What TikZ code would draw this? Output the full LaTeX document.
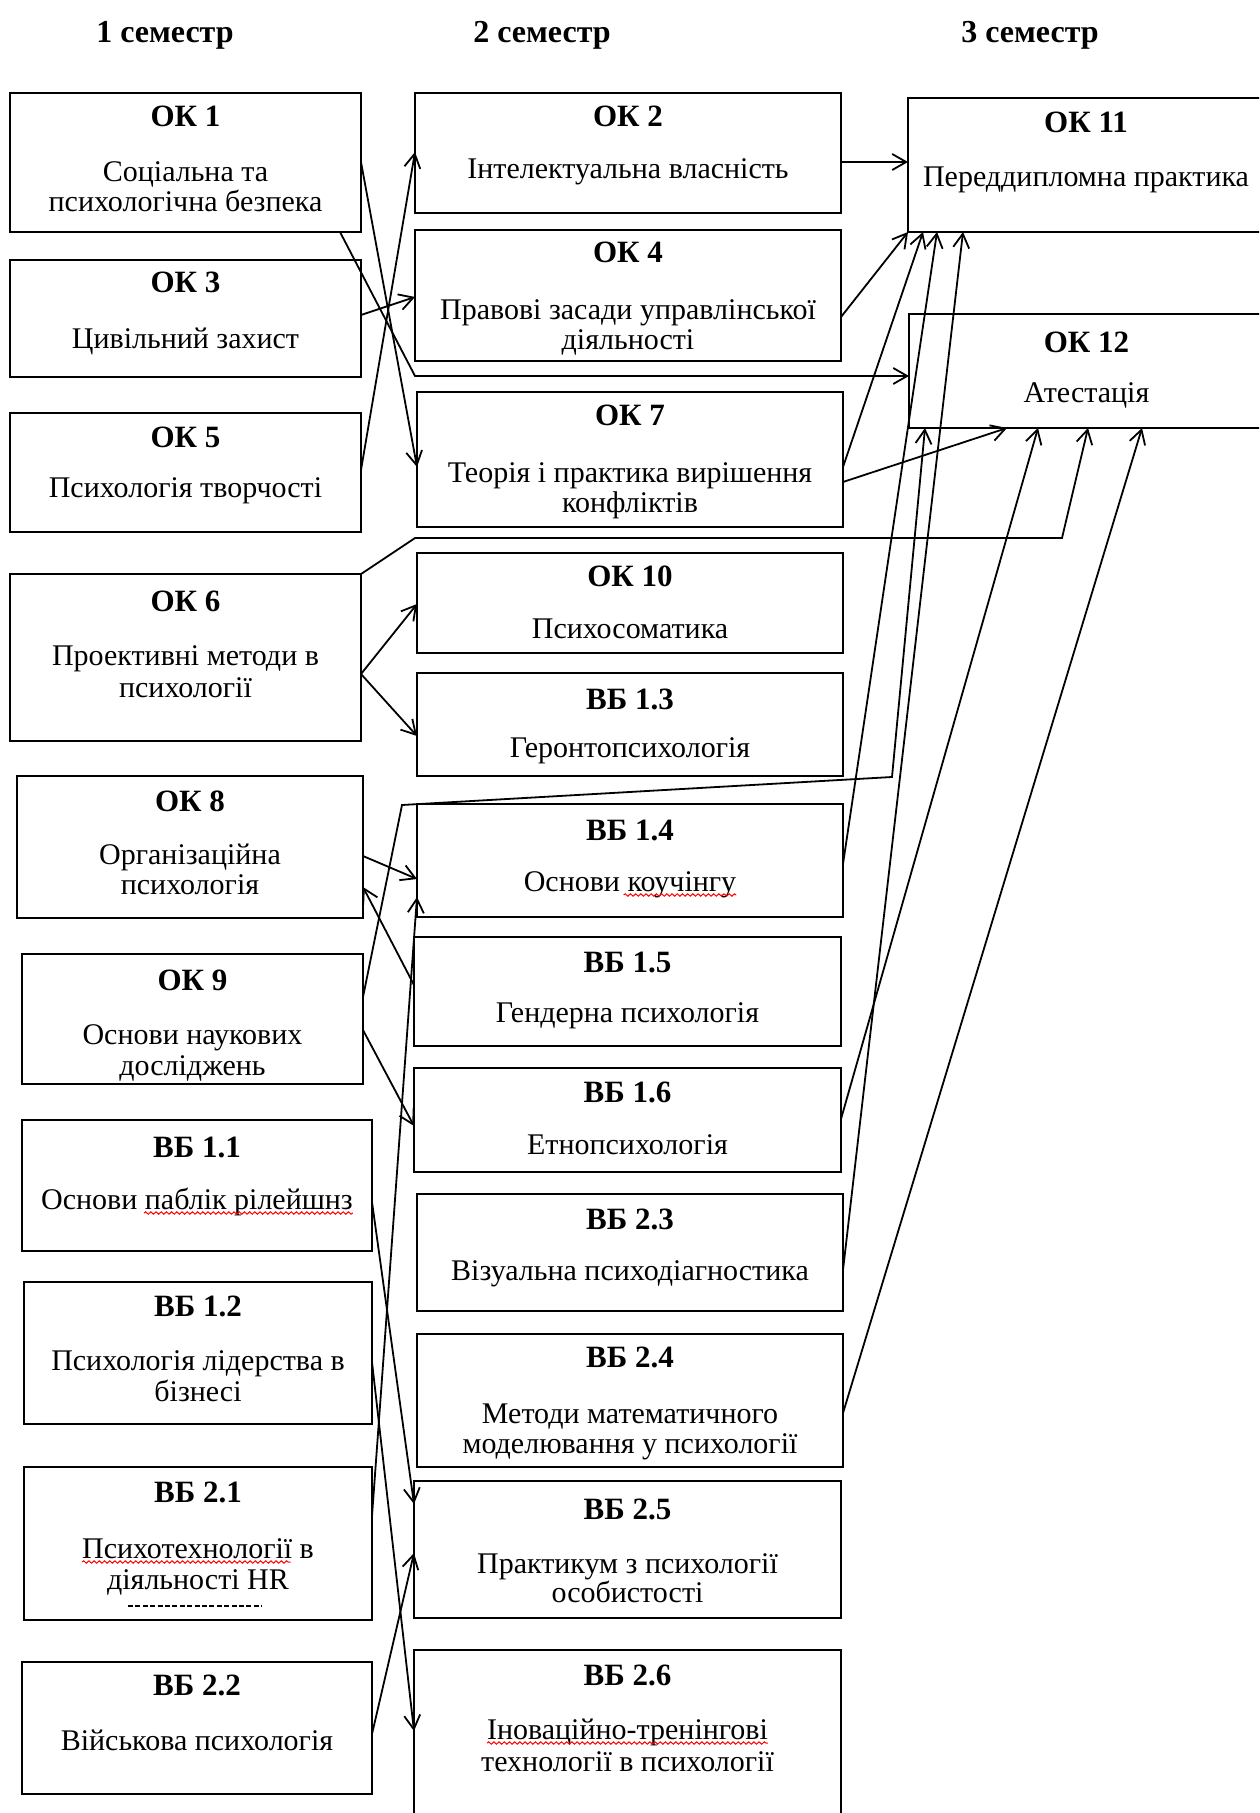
\documentclass[tikz,border=0pt]{standalone}
\usepackage{fontspec}
\setmainfont{Liberation Serif}
\usetikzlibrary{arrows.meta,fit,calc,decorations.pathmorphing}
\newcommand\mkbox[5]{\coordinate (#1-nw) at (#2,#3); \coordinate (#1-se) at (#4,#5); \node[box, fit=(#1-nw)(#1-se)] (#1) {};}
\begin{document}
\begin{tikzpicture}[x=0.5pt,y=-0.5pt,
  box/.style={draw, line width=1.2pt, inner sep=0pt, outer sep=0pt},
  ttl/.style={font=\fontsize{15.5pt}{17pt}\selectfont\bfseries, inner sep=0pt, outer sep=0pt, anchor=base},
  bd/.style={font=\fontsize{15pt}{16pt}\selectfont, inner sep=0pt, outer sep=0pt, anchor=base},
  hdr/.style={font=\fontsize{16pt}{18pt}\selectfont\bfseries, inner sep=0pt, outer sep=0pt, anchor=base},
  conn/.style={line width=0.9pt, -{Straight Barb[length=7pt,width=8pt]}},
  sq/.style={red, line width=0.5pt, decorate, decoration={snake, amplitude=0.6pt, segment length=2.6pt}}
]
\useasboundingbox (0,0) rectangle (1259,1813);
\fill[white] (0,0) rectangle (1259,1813);
\clip (0,0) rectangle (1259,1813);

% headers
\node[hdr] (h1) at (165,43) {1 семестр};
\node[hdr] (h2) at (542,43) {2 семестр};
\node[hdr] (h3) at (1030,43) {3 семестр};

% column 1
\mkbox{ok1}{10}{93}{361}{232}
\mkbox{ok3}{10}{260}{361}{377}
\mkbox{ok5}{10}{413}{361}{532}
\mkbox{ok6}{10}{574}{361}{741}
\mkbox{ok8}{17}{776}{363}{918}
\mkbox{ok9}{22}{954}{363}{1084}
\mkbox{vb11}{22}{1120}{372}{1251}
\mkbox{vb12}{24}{1282}{372}{1424}
\mkbox{vb21}{24}{1467}{372}{1620}
\mkbox{vb22}{22}{1662}{372}{1794}
% column 2
\mkbox{ok2}{415}{93}{841}{213}
\mkbox{ok4}{415}{230}{841}{361}
\mkbox{ok7}{417}{392}{843}{527}
\mkbox{ok10}{417}{553}{843}{653}
\mkbox{vb13}{417}{673}{843}{776}
\mkbox{vb14}{417}{804}{843}{917}
\mkbox{vb15}{414}{937}{841}{1046}
\mkbox{vb16}{414}{1068}{841}{1172}
\mkbox{vb23}{417}{1194}{843}{1311}
\mkbox{vb24}{417}{1334}{843}{1467}
\mkbox{vb25}{414}{1481}{841}{1618}
\mkbox{vb26}{414}{1650}{841}{1830}
% column 3
\mkbox{ok11}{908}{98}{1264}{232}
\mkbox{ok12}{909}{314}{1264}{428}

% texts column 1
\node[ttl] (ok1-t) at (ok1 |- 0,127) {ОК 1};
\node[bd] (ok1-b1) at (ok1 |- 0,182) {Соціальна та};
\node[bd] (ok1-b2) at (ok1 |- 0,212) {психологічна безпека};
\node[ttl] (ok3-t) at (ok3 |- 0,293) {ОК 3};
\node[bd] (ok3-b1) at (ok3 |- 0,349) {Цивільний захист};
\node[ttl] (ok5-t) at (ok5 |- 0,447) {ОК 5};
\node[bd] (ok5-b1) at (ok5 |- 0,497) {Психологія творчості};
\node[ttl] (ok6-t) at (ok6 |- 0,611) {ОК 6};
\node[bd] (ok6-b1) at (ok6 |- 0,665) {Проективні методи в};
\node[bd] (ok6-b2) at (ok6 |- 0,697) {психології};
\node[ttl] (ok8-t) at (ok8 |- 0,811) {ОК 8};
\node[bd] (ok8-b1) at (ok8 |- 0,864) {Організаційна};
\node[bd] (ok8-b2) at (ok8 |- 0,894) {психологія};
\node[ttl] (ok9-t) at (ok9 |- 0,990) {ОК 9};
\node[bd] (ok9-b1) at (ok9 |- 0,1044) {Основи наукових};
\node[bd] (ok9-b2) at (ok9 |- 0,1075) {досліджень};
\node[ttl] (vb11-t) at (vb11 |- 0,1157) {ВБ 1.1};
\node[bd] (vb11-b1) at (vb11 |- 0,1209) {Основи паблік рілейшнз};
\node[ttl] (vb12-t) at (vb12 |- 0,1316) {ВБ 1.2};
\node[bd] (vb12-b1) at (vb12 |- 0,1370) {Психологія лідерства в};
\node[bd] (vb12-b2) at (vb12 |- 0,1401) {бізнесі};
\node[ttl] (vb21-t) at (vb21 |- 0,1502) {ВБ 2.1};
\node[bd] (vb21-b1) at (vb21 |- 0,1558) {Психотехнології в};
\node[bd] (vb21-b2) at (vb21 |- 0,1589) {діяльності HR};
\node[ttl] (vb22-t) at (vb22 |- 0,1695) {ВБ 2.2};
\node[bd] (vb22-b1) at (vb22 |- 0,1750) {Військова психологія};
% texts column 2
\node[ttl] (ok2-t) at (ok2 |- 0,127) {ОК 2};
\node[bd] (ok2-b1) at (ok2 |- 0,179) {Інтелектуальна власність};
\node[ttl] (ok4-t) at (ok4 |- 0,263) {ОК 4};
\node[bd] (ok4-b1) at (ok4 |- 0,320) {Правові засади управлінської};
\node[bd] (ok4-b2) at (ok4 |- 0,350) {діяльності};
\node[ttl] (ok7-t) at (ok7 |- 0,425) {ОК 7};
\node[bd] (ok7-b1) at (ok7 |- 0,482) {Теорія і практика вирішення};
\node[bd] (ok7-b2) at (ok7 |- 0,512) {конфліктів};
\node[ttl] (ok10-t) at (ok10 |- 0,586) {ОК 10};
\node[bd] (ok10-b1) at (ok10 |- 0,638) {Психосоматика};
\node[ttl] (vb13-t) at (vb13 |- 0,709) {ВБ 1.3};
\node[bd] (vb13-b1) at (vb13 |- 0,757) {Геронтопсихологія};
\node[ttl] (vb14-t) at (vb14 |- 0,840) {ВБ 1.4};
\node[bd] (vb14-b1) at (vb14 |- 0,891) {Основи коучінгу};
\node[ttl] (vb15-t) at (vb15 |- 0,972) {ВБ 1.5};
\node[bd] (vb15-b1) at (vb15 |- 0,1022) {Гендерна психологія};
\node[ttl] (vb16-t) at (vb16 |- 0,1102) {ВБ 1.6};
\node[bd] (vb16-b1) at (vb16 |- 0,1154) {Етнопсихологія};
\node[ttl] (vb23-t) at (vb23 |- 0,1229) {ВБ 2.3};
\node[bd] (vb23-b1) at (vb23 |- 0,1280) {Візуальна психодіагностика};
\node[ttl] (vb24-t) at (vb24 |- 0,1367) {ВБ 2.4};
\node[bd] (vb24-b1) at (vb24 |- 0,1423) {Методи математичного};
\node[bd] (vb24-b2) at (vb24 |- 0,1453) {моделювання у психології};
\node[ttl] (vb25-t) at (vb25 |- 0,1519) {ВБ 2.5};
\node[bd] (vb25-b1) at (vb25 |- 0,1573) {Практикум з психології};
\node[bd] (vb25-b2) at (vb25 |- 0,1602) {особистості};
\node[ttl] (vb26-t) at (vb26 |- 0,1685) {ВБ 2.6};
\node[bd] (vb26-b1) at (vb26 |- 0,1739) {Іноваційно-тренінгові};
\node[bd] (vb26-b2) at (vb26 |- 0,1771) {технології в психології};
% texts column 3
\node[ttl] (ok11-t) at (ok11 |- 0,133) {ОК 11};
\node[bd] (ok11-b1) at (ok11 |- 0,187) {Переддипломна практика};
\node[ttl] (ok12-t) at (ok12 |- 0,352) {ОК 12};
\node[bd] (ok12-b1) at (ok12 |- 0,402) {Атестація};

% spell-check squiggles and clipped line fragment
\draw[sq] ($(vb11-b1.base west)!0.33!(vb11-b1.base east)+(0,4)$) -- ($(vb11-b1.base east)+(0,4)$);
\draw[sq] ($(vb14-b1.base west)!0.47!(vb14-b1.base east)+(0,4)$) -- ($(vb14-b1.base east)+(0,4)$);
\draw[sq] ($(vb21-b1.base west)+(0,4)$) -- ($(vb21-b1.base west)!0.9!(vb21-b1.base east)+(0,4)$);
\draw[sq] ($(vb26-b1.base west)+(0,4)$) -- ($(vb26-b1.base east)+(0,4)$);
\draw[line width=0.8pt, dash pattern=on 2.5pt off 1.2pt] (128,1606) -- (262,1606);

% bend points
\coordinate (b1) at (415,376);
\coordinate (b2a) at (415,538);
\coordinate (b2b) at (1062,538);
\coordinate (b3a) at (402,805);
\coordinate (b3b) at (892,777);

% connectors
\draw[conn] (ok1.east |- 0,162) -- (ok7.west |- 0,467);
\draw[conn] (ok1.south -| 340,0) -- (b1) -- (ok12.west |- 0,376);
\draw[conn] (ok5.east |- 0,470) -- (ok2.west |- 0,152);
\draw[conn] (ok3.east |- 0,315) -- (ok4.west |- 0,297);
\draw[conn] (ok2.east |- 0,162) -- (ok11.west |- 0,162);
\draw[conn] (ok4.east |- 0,317) -- (ok11.south west);
\draw[conn] (ok7.east |- 0,467) -- (ok11.south -| 923,0);
\draw[conn] (ok7.east |- 0,482) -- (ok12.south -| 1007,0);
\draw[conn] (ok6.north east) -- (b2a) -- (b2b) -- (ok12.south -| 1088,0);
\draw[conn] (ok6.east |- 0,674) -- (ok10.west |- 0,604);
\draw[conn] (ok6.east |- 0,674) -- (vb13.west |- 0,736);
\draw[conn] (ok8.east |- 0,856) -- (vb14.west |- 0,879);
\draw[conn] (vb15.west |- 0,985) -- (ok8.east |- 0,887);
\draw[conn] (ok9.east |- 0,997) -- (b3a) -- (b3b) -- (ok12.south -| 925,0);
\draw[conn] (ok9.east |- 0,1030) -- (vb16.west |- 0,1126);
\draw[conn] (vb14.east |- 0,864) -- (ok11.south -| 937,0);
\draw[conn] (vb16.east |- 0,1119) -- (ok12.south -| 1038,0);
\draw[conn] (vb23.east |- 0,1270) -- (ok11.south -| 963,0);
\draw[conn] (vb24.east |- 0,1413) -- (ok12.south -| 1142,0);
\draw[conn] (vb11.east |- 0,1202) -- (vb25.west |- 0,1504);
\draw[conn] (vb12.east |- 0,1362) -- (vb26.west |- 0,1731);
\draw[conn] (vb21.east |- 0,1516) -- (vb14.west |- 0,897);
\draw[conn] (vb22.east |- 0,1734) -- (vb25.west |- 0,1553);
\end{tikzpicture}
\end{document}
